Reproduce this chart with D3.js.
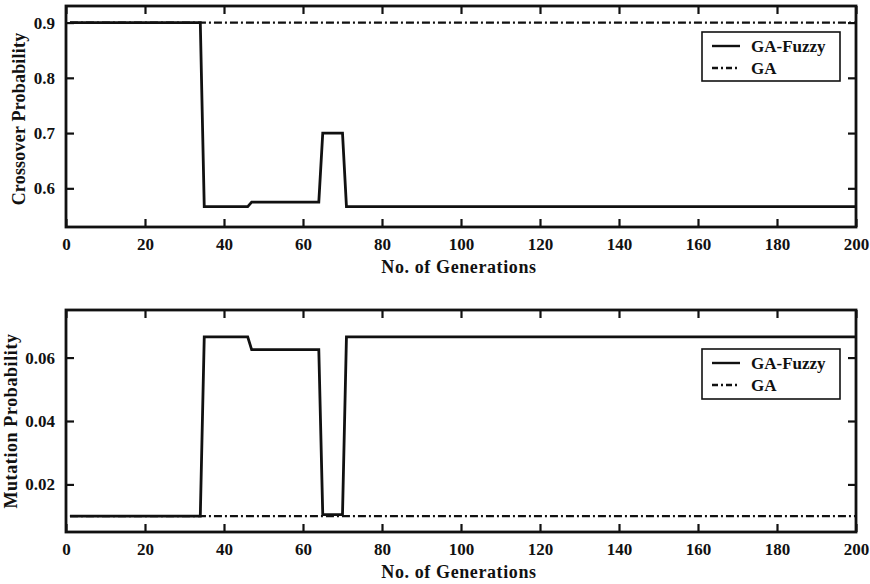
<!DOCTYPE html>
<html><head><meta charset="utf-8">
<script src="https://cdn.jsdelivr.net/npm/d3@7"></script>
<style>
body{margin:0;background:#fff;}
svg text{font-family:"Liberation Serif","DejaVu Serif",serif;font-weight:bold;fill:#111;}
</style>
</head><body>
<svg id="chart" width="870" height="584"></svg>
<script>
// ---- data ----
const xTicks = [0,20,40,60,80,100,120,140,160,180,200];
const crossTicks = [0.6,0.7,0.8,0.9];
const mutTicks = [0.02,0.04,0.06];
const seriesNames = ["GA-Fuzzy","GA"];

const crossFuzzyGen = [1,34,35,46,47,64,65,70,71,200];
const crossFuzzyVal = [0.9,0.9,0.567,0.567,0.575,0.575,0.70,0.70,0.567,0.567];
const crossGAGen = [1,200];
const crossGAVal = [0.9,0.9];

const mutFuzzyGen = [1,34,35,46,47,64,65,70,71,200];
const mutFuzzyVal = [0.010,0.010,0.0665,0.0665,0.0625,0.0625,0.0105,0.0105,0.0665,0.0665];
const mutGAGen = [1,200];
const mutGAVal = [0.010,0.010];

const svg = d3.select("#chart");
const stroke = "#111";

function panel(cfg){
  const x = d3.scaleLinear().domain([0,200]).range([cfg.left,cfg.right]);
  const y = d3.scaleLinear().domain(cfg.yDomain).range([cfg.bottom,cfg.top]);
  const g = svg.append("g");

  const line = d3.line().x(d=>x(d[0])).y(d=>y(d[1]));
  const ga = cfg.gaGen.map((v,i)=>[v,cfg.gaVal[i]]);
  const fz = cfg.fzGen.map((v,i)=>[v,cfg.fzVal[i]]);
  g.append("path").datum(ga).attr("d",line).attr("fill","none")
    .attr("stroke",stroke).attr("stroke-width",2.3).attr("stroke-dasharray","8,3,2,3");
  g.append("path").datum(fz).attr("d",line).attr("fill","none")
    .attr("stroke",stroke).attr("stroke-width",2.8);

  // axes
  const bx = g.append("g").attr("transform",`translate(0,${cfg.bottom})`)
    .call(d3.axisBottom(x).tickValues(xTicks).tickSize(-8).tickPadding(11));
  const tx = g.append("g").attr("transform",`translate(0,${cfg.top})`)
    .call(d3.axisTop(x).tickValues(xTicks).tickSize(-8).tickFormat(""));
  const ly = g.append("g").attr("transform",`translate(${cfg.left},0)`)
    .call(d3.axisLeft(y).tickValues(cfg.yTicks).tickSize(-8).tickPadding(11).tickFormat(d3.format(cfg.fmt)));
  const ry = g.append("g").attr("transform",`translate(${cfg.right},0)`)
    .call(d3.axisRight(y).tickValues(cfg.yTicks).tickSize(-8).tickFormat(""));
  [bx,tx,ly,ry].forEach(a=>{
    a.select(".domain").remove();
    a.selectAll(".tick line").attr("stroke",stroke).attr("stroke-width",2.2);
    a.selectAll(".tick text").attr("font-size",17).attr("fill","#111")
      .style("font-family",'"Liberation Serif",serif').style("font-weight","bold");
  });

  g.append("rect").attr("x",cfg.left).attr("y",cfg.top)
    .attr("width",cfg.right-cfg.left).attr("height",cfg.bottom-cfg.top)
    .attr("fill","none").attr("stroke",stroke).attr("stroke-width",2.8);

  g.append("text").attr("x",(cfg.left+cfg.right)/2 - 2).attr("y",cfg.bottom+46)
    .attr("text-anchor","middle").attr("font-size",18).attr("letter-spacing",0.6)
    .text("No. of Generations");
  g.append("text").attr("transform",`translate(${cfg.ylabX},${cfg.ylabY}) rotate(-90)`)
    .attr("text-anchor","middle").attr("font-size",18).attr("letter-spacing",cfg.ylabLS)
    .text(cfg.ylabel);

  // legend
  const L = cfg.legend;
  g.append("rect").attr("x",L.x).attr("y",L.y).attr("width",L.w).attr("height",L.h)
    .attr("fill","#fff").attr("stroke",stroke).attr("stroke-width",1.6);
  seriesNames.forEach((n,i)=>{
    const yy = L.y + 14 + i*22;
    g.append("line").attr("x1",L.x+10).attr("x2",L.x+38).attr("y1",yy).attr("y2",yy)
      .attr("stroke",stroke).attr("stroke-width",2.4)
      .attr("stroke-dasharray", i===0 ? null : "6,3,2,3");
    g.append("text").attr("x",L.x+49).attr("y",yy+6).attr("font-size",17).text(n);
  });
}

panel({left:66,right:856,top:6,bottom:227,yDomain:[0.53,0.93],yTicks:crossTicks,fmt:".1f",
  fzGen:crossFuzzyGen,fzVal:crossFuzzyVal,gaGen:crossGAGen,gaVal:crossGAVal,
  ylabel:"Crossover Probability",ylabX:25,ylabY:119,ylabLS:0.2,legend:{x:702,y:32,w:138,h:49}});
panel({left:66,right:856,top:310,bottom:532,yDomain:[0.005,0.075],yTicks:mutTicks,fmt:".2f",
  fzGen:mutFuzzyGen,fzVal:mutFuzzyVal,gaGen:mutGAGen,gaVal:mutGAVal,
  ylabel:"Mutation Probability",ylabX:17,ylabY:421,ylabLS:0.6,legend:{x:702,y:349,w:138,h:50}});
</script>
</body></html>
